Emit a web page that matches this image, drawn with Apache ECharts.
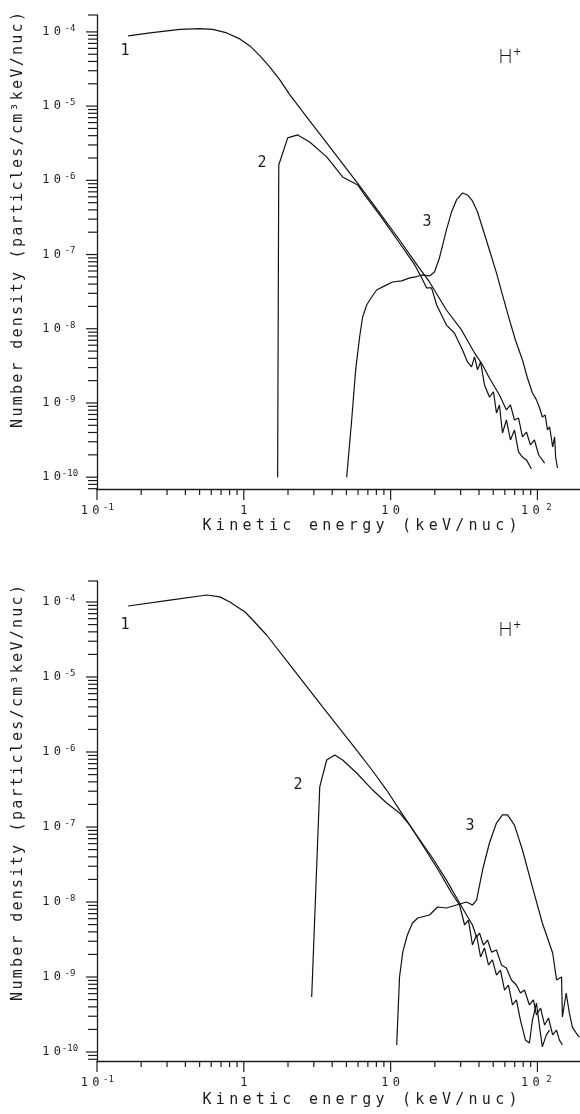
<!DOCTYPE html>
<html lang="en">
<head>
<meta charset="UTF-8">
<title>H+ number density vs kinetic energy</title>
<style>
  html, body { margin: 0; padding: 0; background: #fff; }
  #chart { width: 580px; height: 1114px; }
</style>
</head>
<body>
<div id="chart"></div>
<script src="https://cdn.jsdelivr.net/npm/echarts@6/dist/echarts.min.js"></script>
<script>
// axis ranges (keV/nuc and particles/cm^3 keV/nuc)
const xMin = 0.1, xMax = 195;
const topYMin = 6.93e-11, topYMax = 1.69e-4;
const botYMin = 7.59e-11, botYMax = 1.905e-4;
const xTickExps = [-1, 0, 1, 2];
const yTickExps = [-10, -9, -8, -7, -6, -5, -4];

// upper panel
const top1Energy = [0.163, 0.230, 0.367, 0.502, 0.615, 0.766, 0.939, 1.10, 1.29, 1.50, 1.76, 2.06, 2.81, 3.85, 5.26, 6.15, 8.42, 11.5, 15.3, 18.4, 24.0, 30.4, 37.3, 42.3, 47.1, 55.1, 61.5, 65.5, 69.8, 74.3, 79.1, 84.2, 89.6, 95.4, 102, 112];
const top1Density = [8.83e-5, 9.69e-5, 1.08e-4, 1.11e-4, 1.08e-4, 9.69e-5, 8.05e-5, 6.48e-5, 4.75e-5, 3.38e-5, 2.26e-5, 1.42e-5, 6.32e-6, 2.82e-6, 1.26e-6, 8.41e-7, 3.64e-7, 1.57e-7, 7.02e-8, 4.27e-8, 1.79e-8, 9.64e-9, 4.72e-9, 3.25e-9, 2.17e-9, 1.28e-9, 8.05e-10, 9.40e-10, 5.90e-10, 6.28e-10, 3.48e-10, 4.06e-10, 2.72e-10, 3.17e-10, 1.99e-10, 1.55e-10];

const top2Energy = [1.70, 1.73, 1.99, 2.33, 2.81, 3.67, 4.71, 5.97, 6.65, 8.42, 11.5, 14.6, 16.3, 17.6, 19.0, 20.6, 24.0, 27.2, 30.9, 33.4, 35.6, 37.3, 39.1, 41.0, 43.6, 47.1, 50.2, 52.6, 55.1, 57.8, 61.5, 65.5, 69.8, 74.3, 79.1, 84.2, 91.0];
const top2Density = [1.0e-10, 1.61e-6, 3.73e-6, 4.09e-6, 3.29e-6, 2.07e-6, 1.11e-6, 8.67e-7, 6.35e-7, 3.42e-7, 1.43e-7, 7.24e-8, 4.84e-8, 3.55e-8, 3.55e-8, 2.09e-8, 1.12e-8, 8.77e-9, 5.18e-9, 3.57e-9, 3.06e-9, 4.17e-9, 2.79e-9, 3.57e-9, 1.75e-9, 1.20e-9, 1.41e-9, 7.33e-10, 9.40e-10, 3.94e-10, 5.90e-10, 3.17e-10, 4.32e-10, 2.19e-10, 1.87e-10, 1.71e-10, 1.29e-10];

const top3Energy = [5.02, 5.43, 5.78, 6.15, 6.45, 6.87, 7.43, 8.03, 9.10, 10.3, 11.9, 13.5, 14.8, 16.3, 18.4, 19.9, 21.5, 24.0, 26.0, 28.1, 30.9, 33.4, 36.1, 39.1, 42.3, 47.1, 52.6, 57.8, 64.5, 70.8, 79.1, 85.5, 92.5, 98.5, 103, 108, 113, 117, 121, 125, 127, 131, 133, 137];
const top3Density = [1.0e-10, 5.90e-10, 2.79e-9, 7.75e-9, 1.44e-8, 2.09e-8, 2.68e-8, 3.33e-8, 3.78e-8, 4.27e-8, 4.41e-8, 4.84e-8, 4.99e-8, 5.31e-8, 5.15e-8, 5.82e-8, 8.99e-8, 2.15e-7, 3.75e-7, 5.44e-7, 6.76e-7, 6.35e-7, 5.27e-7, 3.75e-7, 2.28e-7, 1.15e-7, 5.65e-8, 2.86e-8, 1.32e-8, 7.06e-9, 3.80e-9, 2.17e-9, 1.36e-9, 1.10e-9, 8.83e-10, 6.47e-10, 6.89e-10, 4.32e-10, 4.75e-10, 3.17e-10, 2.55e-10, 3.48e-10, 1.87e-10, 1.33e-10];

// lower panel
const bot1Energy = [0.163, 0.314, 0.560, 0.687, 0.803, 1.02, 1.15, 1.43, 2.06, 3.45, 5.87, 7.55, 9.39, 11.5, 15.0, 19.3, 24.0, 29.5, 32.9, 36.1, 38.5, 40.3, 42.9, 45.7, 48.7, 52.6, 56.9, 61.5, 66.5, 71.9, 76.6, 81.6, 88.2, 93.9, 98.5, 105, 112, 119, 127, 135, 141, 148];
const bot1Density = [8.85e-5, 1.06e-4, 1.24e-4, 1.17e-4, 1.00e-4, 7.36e-5, 5.75e-5, 3.63e-5, 1.45e-5, 3.98e-6, 1.06e-6, 5.58e-7, 3.11e-7, 1.69e-7, 7.82e-8, 3.86e-8, 1.96e-8, 9.70e-9, 6.71e-9, 4.94e-9, 3.41e-9, 3.86e-9, 2.67e-9, 3.11e-9, 2.15e-9, 2.29e-9, 1.45e-9, 1.32e-9, 9.12e-10, 7.82e-10, 6.12e-10, 6.71e-10, 4.24e-10, 4.94e-10, 3.11e-10, 3.86e-10, 2.29e-10, 2.84e-10, 1.69e-10, 1.96e-10, 1.45e-10, 1.24e-10];

const bot2Energy = [2.90, 3.29, 3.67, 4.16, 4.71, 5.87, 7.55, 9.39, 11.5, 13.5, 17.0, 21.5, 26.0, 29.5, 31.9, 33.9, 36.1, 38.5, 41.0, 43.6, 46.4, 49.4, 52.6, 56.0, 59.7, 63.5, 67.6, 71.9, 76.6, 82.8, 88.2, 92.5, 98.5, 103, 108, 115, 121];
const bot2Density = [5.41e-10, 3.42e-7, 7.82e-7, 9.12e-7, 7.82e-7, 5.25e-7, 3.11e-7, 2.09e-7, 1.54e-7, 1.06e-7, 5.25e-8, 2.51e-8, 1.32e-8, 9.12e-9, 4.94e-9, 5.75e-9, 2.67e-9, 3.63e-9, 1.85e-9, 2.44e-9, 1.45e-9, 1.69e-9, 1.06e-9, 1.24e-9, 6.71e-10, 7.82e-10, 4.24e-10, 4.94e-10, 2.67e-10, 1.45e-10, 1.32e-10, 2.67e-10, 4.50e-10, 2.29e-10, 1.17e-10, 1.69e-10, 1.96e-10];

const bot3Energy = [11.0, 11.5, 12.1, 13.0, 14.1, 15.3, 18.4, 20.9, 24.0, 28.1, 32.9, 36.1, 38.5, 42.3, 47.1, 52.6, 57.8, 62.5, 69.8, 79.1, 92.5, 108, 127, 135, 146, 148, 157, 165, 173, 184, 193];
const bot3Density = [1.24e-10, 1.0e-9, 2.15e-9, 3.63e-9, 5.25e-9, 6.12e-9, 6.71e-9, 8.58e-9, 8.32e-9, 9.12e-9, 1.0e-8, 9.12e-9, 1.06e-8, 2.67e-8, 6.12e-8, 1.13e-7, 1.45e-7, 1.45e-7, 1.06e-7, 4.94e-8, 1.58e-8, 5.25e-9, 2.09e-9, 9.12e-10, 1.0e-9, 2.93e-10, 6.12e-10, 3.31e-10, 2.15e-10, 1.79e-10, 1.58e-10];

const ink = '#1c1c1c';
const mono = '"DejaVu Sans Mono", "Liberation Mono", monospace';

function zip(xs, ys) { return xs.map((x, i) => [x, ys[i]]); }

// every character in its own fixed-width box, like the plotter lettering
function spaced(str, tok) {
  return Array.from(str).map(c => '{' + tok + '|' + c + '}').join('');
}

function powLabel(value) {
  const e = Math.round(Math.log10(value));
  if (e === 0) return '{d|1}';
  if (e === 1) return '{d|1}{d|0}';
  return '{d|1}{d|0}{e|' + e + '}';
}

const labelRich = {
  d: { fontFamily: mono, fontSize: 12, width: 11.5, align: 'center', lineHeight: 16, color: ink },
  e: { fontFamily: mono, fontSize: 9, width: 14, align: 'center', lineHeight: 6, verticalAlign: 'top', color: ink }
};

// tick marks (major + minor log ticks) drawn through the axes
function tickData(yMin, yMax) {
  const out = [];
  for (const e of xTickExps.concat([xTickExps[xTickExps.length - 1] + 1])) {
    for (let m = 1; m <= 9; m++) {
      const v = m * Math.pow(10, e);
      if (v >= xMin && v <= xMax) out.push([v, yMin, m === 1 ? 1 : 0]);
    }
  }
  for (const e of [yTickExps[0] - 1].concat(yTickExps)) {
    for (let m = 1; m <= 9; m++) {
      const v = m * Math.pow(10, e);
      if (v >= yMin && v <= yMax) out.push([xMin, v, m === 1 ? 3 : 2]);
    }
  }
  out.push([xMin, yMax, 2]);
  return out;
}

function renderTick(params, api) {
  const kind = api.value(2);
  const p = api.coord([api.value(0), api.value(1)]);
  let shape;
  if (kind < 2) {
    const len = kind === 1 ? 11 : 6;
    shape = { x1: p[0], y1: p[1], x2: p[0], y2: p[1] + len };
  } else {
    const len = kind === 3 ? 11 : 9;
    shape = { x1: p[0] - len, y1: p[1], x2: p[0], y2: p[1] };
  }
  return { type: 'line', shape: shape, style: { stroke: ink, lineWidth: 1.2 } };
}

function curve(data, idx) {
  return {
    type: 'line', data: data, xAxisIndex: idx, yAxisIndex: idx,
    showSymbol: false, symbol: 'none', silent: true,
    lineStyle: { color: '#111', width: 1.2 }
  };
}

function ticks(idx, yMin, yMax) {
  return {
    type: 'custom', xAxisIndex: idx, yAxisIndex: idx, clip: false, silent: true,
    dimensions: ['x', 'y', 'kind'], encode: { x: 0, y: 1 },
    data: tickData(yMin, yMax), renderItem: renderTick
  };
}

function xAxis(idx) {
  return {
    type: 'log', gridIndex: idx, min: xMin, max: xMax,
    axisLine: { show: true, lineStyle: { color: ink, width: 1.3 } },
    axisTick: { show: false }, splitLine: { show: false }, minorTick: { show: false },
    axisLabel: { margin: 14, showMinLabel: true, showMaxLabel: false, formatter: powLabel, rich: labelRich }
  };
}

function yAxis(idx, min, max) {
  return {
    type: 'log', gridIndex: idx, min: min, max: max,
    axisLine: { show: true, lineStyle: { color: ink, width: 1.3 } },
    axisTick: { show: false }, splitLine: { show: false }, minorTick: { show: false },
    axisLabel: { margin: 20, showMinLabel: false, showMaxLabel: false, formatter: powLabel, rich: labelRich }
  };
}

const xTitle = 'Kinetic energy (keV/nuc)';
const yTitle = 'Number density (particles/cm³keV/nuc)';
const xTitleRich = { c: { fontFamily: mono, fontSize: 15, width: 13.3, align: 'center', color: ink } };
const yTitleRich = { c: { fontFamily: mono, fontSize: 15, width: 11.3, align: 'center', color: ink } };

function text(x, y, str, size) {
  return { type: 'text', x: x, y: y, silent: true,
    style: { text: str, fill: ink, font: size + 'px ' + mono, align: 'center', verticalAlign: 'middle' } };
}

function ionLabel(x, y) {
  return { type: 'text', x: x, y: y, silent: true,
    style: { text: '{h|H}{p|+}', fill: ink, align: 'left', verticalAlign: 'middle',
      rich: {
        h: { fontFamily: '"DejaVu Sans", sans-serif', fontWeight: 200, fontSize: 20, lineHeight: 22, color: ink },
        p: { fontFamily: '"DejaVu Sans", sans-serif', fontSize: 10, lineHeight: 8, verticalAlign: 'top', color: ink }
      } } };
}

function axisTitles(xCy, yCy) {
  return [
    { type: 'text', x: 360, y: xCy, silent: true,
      style: { text: spaced(xTitle, 'c'), rich: xTitleRich, fill: ink, align: 'center', verticalAlign: 'middle' } },
    { type: 'text', x: 18, y: yCy, rotation: Math.PI / 2, silent: true,
      style: { text: spaced(yTitle, 'c'), rich: yTitleRich, fill: ink, align: 'center', verticalAlign: 'middle' } }
  ];
}

const chart = echarts.init(document.getElementById('chart'));
chart.setOption({
  animation: false,
  backgroundColor: '#fff',
  grid: [
    { left: 97, top: 15, width: 483, height: 474 },
    { left: 97, top: 581, width: 483, height: 480 }
  ],
  xAxis: [xAxis(0), xAxis(1)],
  yAxis: [yAxis(0, topYMin, topYMax), yAxis(1, botYMin, botYMax)],
  series: [
    curve(zip(top1Energy, top1Density), 0),
    curve(zip(top2Energy, top2Density), 0),
    curve(zip(top3Energy, top3Density), 0),
    curve(zip(bot1Energy, bot1Density), 1),
    curve(zip(bot2Energy, bot2Density), 1),
    curve(zip(bot3Energy, bot3Density), 1),
    ticks(0, topYMin, topYMax),
    ticks(1, botYMin, botYMax)
  ],
  graphic: [
    text(125, 51, '1', 15), text(262, 163, '2', 15), text(427, 222, '3', 15),
    text(125, 625, '1', 15), text(298, 785, '2', 15), text(470, 826, '3', 15),
    ionLabel(498, 58), ionLabel(498, 631)
  ].concat(axisTitles(526, 220), axisTitles(1100, 793))
});
</script>
</body>
</html>
